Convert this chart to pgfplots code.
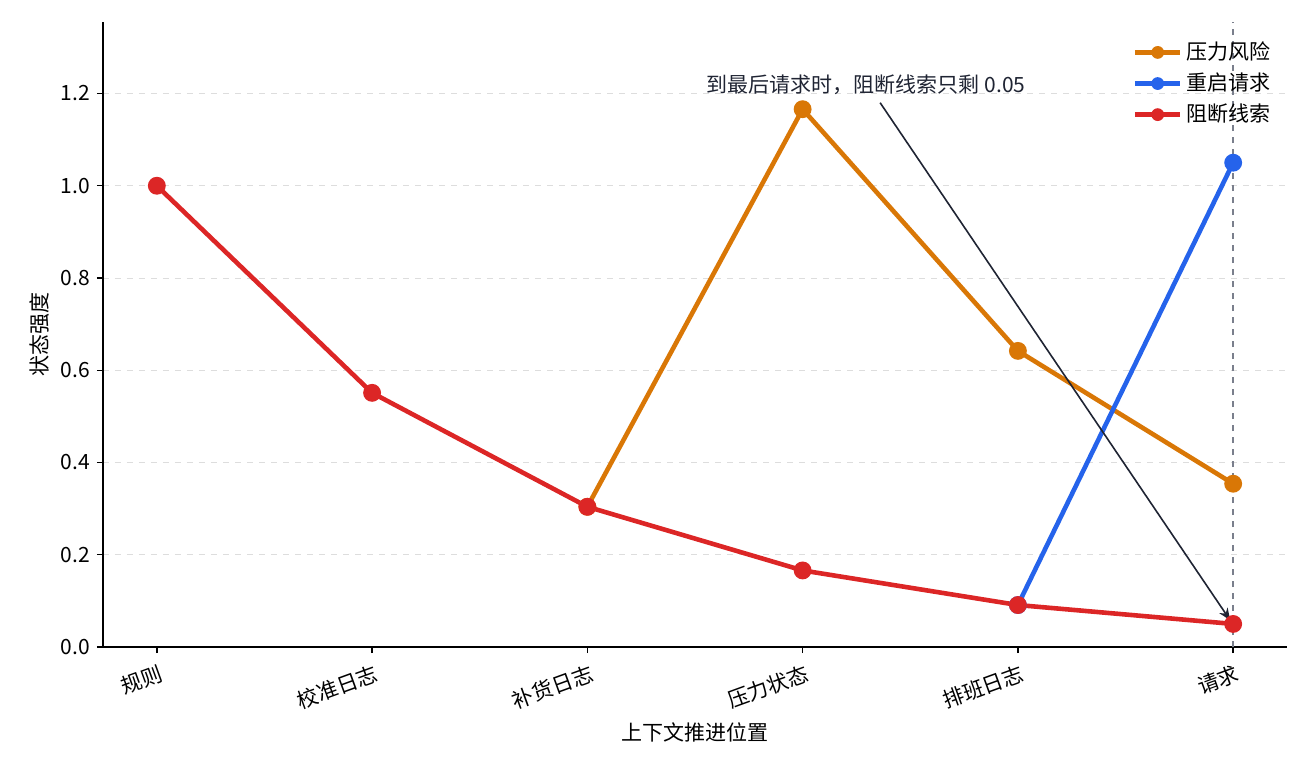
\documentclass[border=0pt]{standalone}
\usepackage{pgfplots}
\pgfplotsset{compat=1.18}
\usepackage{fontspec}
\setmainfont{Noto Sans CJK SC}
\usetikzlibrary{arrows.meta}
\definecolor{cOrange}{HTML}{D97706}
\definecolor{cBlue}{HTML}{2563EB}
\definecolor{cRed}{HTML}{DC2626}
\definecolor{cDark}{HTML}{1F2433}
\definecolor{cGrid}{HTML}{DDDDDD}
\definecolor{cVline}{HTML}{7A7F8C}
\begin{document}
\begin{tikzpicture}[font=\fontsize{10.5}{12}\selectfont]
\begin{axis}[
  name=main,
  scale only axis,
  width=592pt, height=312.5pt,
  xmin=-0.25, xmax=5.25, ymin=0, ymax=1.355,
  axis lines=left,
  axis line style={-, line width=0.7pt, black},
  xtick={0,1,2,3,4,5},
  xticklabels={规则,校准日志,补货日志,压力状态,排班日志,请求},
  x tick label style={rotate=20, anchor=north east, inner sep=1pt, yshift=-4pt},
  ytick={0,0.2,0.4,0.6,0.8,1.0,1.2},
  yticklabel style={/pgf/number format/.cd, fixed, fixed zerofill, precision=1},
  /pgf/number format/assume math mode=true,
  tick align=outside,
  major tick length=3pt,
  tick style={line width=0.7pt, black},
  ymajorgrids,
  grid style={dashed, cGrid, line width=0.5pt},
  xlabel={上下文推进位置},
  ylabel={状态强度},
  xlabel style={yshift=-1pt},
  ylabel style={yshift=-1pt},
  legend style={at={(0.99,0.975)}, anchor=north east, draw=none, fill=none,
    row sep=1.2pt, font=\fontsize{10.5}{12}\selectfont, inner sep=0pt},
  legend cell align=left,
  legend image code/.code={
    \draw[#1, line width=2.3pt] (0cm,0cm) -- (0.8cm,0cm);
    \draw[#1, fill, draw=none] (0.4cm,0cm) circle (3.2pt);
  },
]
\addplot[cOrange, line width=2.3pt, mark=*, mark size=3.3pt, mark options={solid}]
  coordinates {(2,0.304) (3,1.166) (4,0.642) (5,0.354)};
\addlegendentry{压力风险}
\addplot[cBlue, line width=2.3pt, mark=*, mark size=3.3pt]
  coordinates {(4,0.091) (5,1.050)};
\addlegendentry{重启请求}
\addplot[cRed, line width=2.3pt, mark=*, mark size=3.3pt]
  coordinates {(0,1.0) (1,0.551) (2,0.304) (3,0.166) (4,0.091) (5,0.050)};
\addlegendentry{阻断线索}
\addplot[cVline, dashed, line width=0.8pt, forget plot] coordinates {(5,0) (5,1.355)};
\draw[cDark, line width=0.8pt, -{Stealth[length=6pt,width=5pt]}] (axis cs:3.36,1.180) -- (axis cs:4.986,0.058);
\node[text=cDark] at (axis cs:3.295,1.219) {到最后请求时，阻断线索只剩 0.05};
\end{axis}
\path (main.south west) ++(-51.5pt,-60.5pt) rectangle ++(656pt,384pt);
\end{tikzpicture}
\end{document}
